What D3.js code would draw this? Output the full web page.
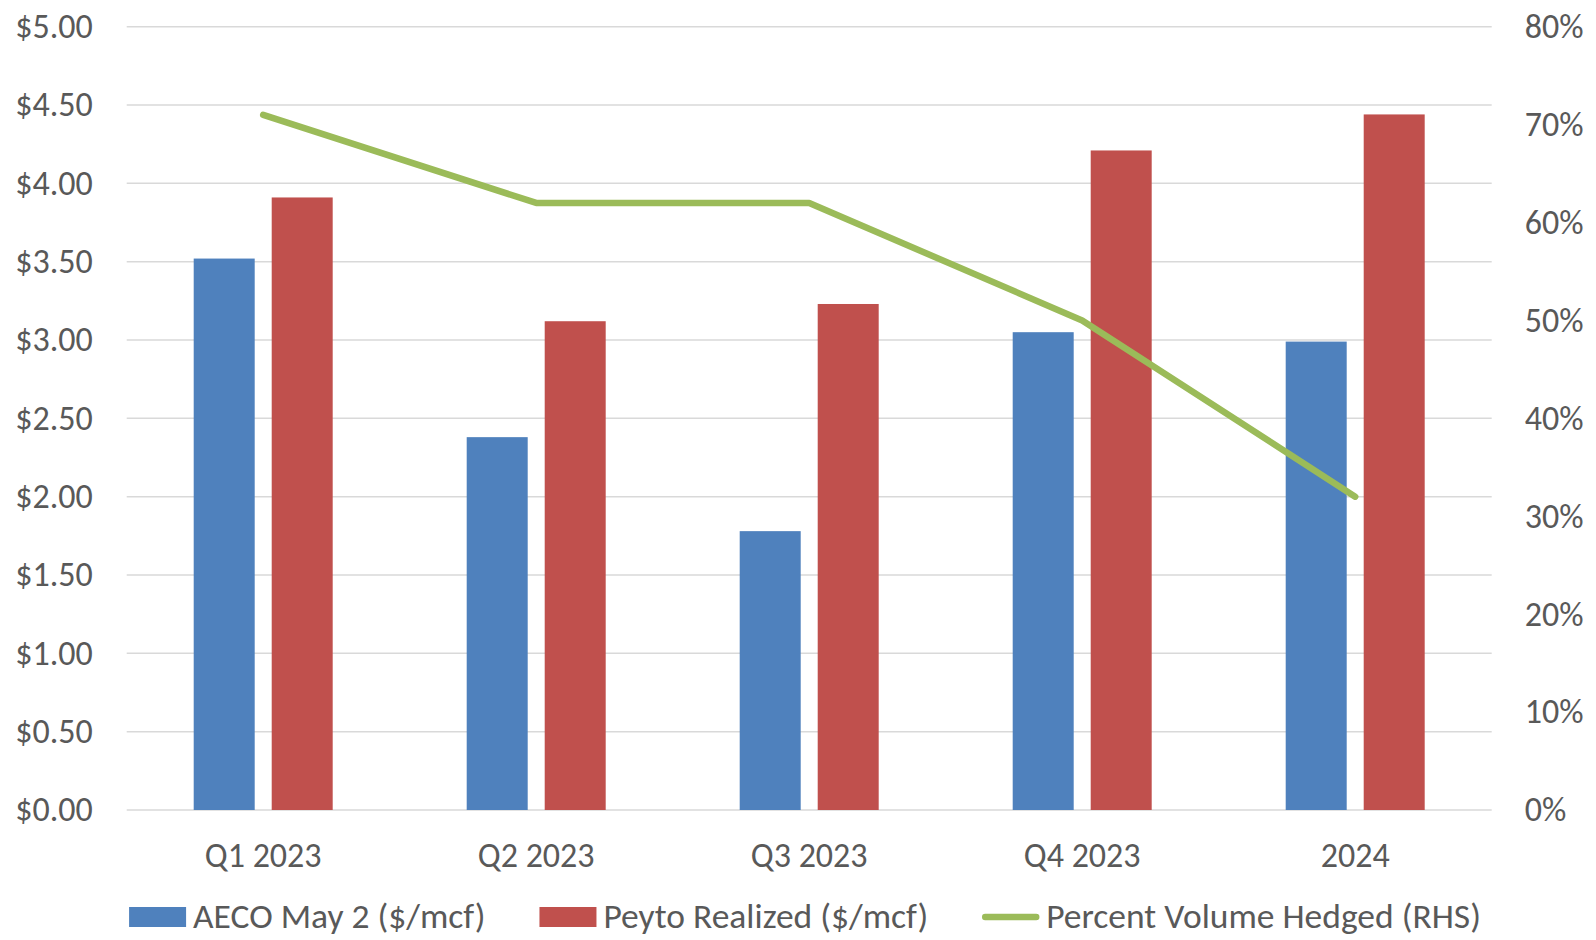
<!DOCTYPE html>
<html>
<head>
<meta charset="utf-8">
<script src="https://cdn.jsdelivr.net/npm/d3@7"></script>
<style>
  html, body { margin: 0; padding: 0; background: #ffffff; }
  svg { display: block; }
  text { font-family: Carlito, Calibri, Lato, "Open Sans", sans-serif; fill: #595959; }
</style>
</head>
<body>
<svg id="chart" width="1596" height="940"></svg>
<script>
// Quarterly gas prices and hedged share
const categories = ["Q1 2023", "Q2 2023", "Q3 2023", "Q4 2023", "2024"];
const aecoPrices = [3.52, 2.38, 1.78, 3.05, 2.99];
const peytoPrices = [3.91, 3.12, 3.23, 4.21, 4.44];
const hedgedShare = [0.71, 0.62, 0.62, 0.50, 0.32];
const priceTicks = [0, 0.5, 1, 1.5, 2, 2.5, 3, 3.5, 4, 4.5, 5];
const shareTicks = [0, 0.1, 0.2, 0.3, 0.4, 0.5, 0.6, 0.7, 0.8];
const seriesNames = ["AECO May 2 ($/mcf)", "Peyto Realized ($/mcf)", "Percent Volume Hedged (RHS)"];
const colors = { aeco: "#4F81BD", peyto: "#C0504D", hedged: "#9BBB59" };

const svg = d3.select("#chart");
const plot = { left: 126.7, right: 1491.7, top: 26.7, bottom: 810 };
const fontSize = 34;
const legendFontSize = 35.5;

const x = d3.scaleBand().domain(categories).range([plot.left, plot.right]).padding(0);
const xInner = d3.scaleBand().domain(["aeco", "peyto"]).range([0, x.bandwidth()])
  .paddingInner(0.218).paddingOuter(0.859);
const yPrice = d3.scaleLinear().domain([0, 5]).range([plot.bottom, plot.top]);
const yShare = d3.scaleLinear().domain([0, 0.8]).range([plot.bottom, plot.top]);

// Horizontal gridlines
svg.append("g").selectAll("line").data(priceTicks).join("line")
  .attr("x1", plot.left).attr("x2", plot.right)
  .attr("y1", d => yPrice(d)).attr("y2", d => yPrice(d))
  .attr("stroke", "#D9D9D9").attr("stroke-width", 1.5);

// Bars
const rows = categories.map((c, i) => ({ cat: c, aeco: aecoPrices[i], peyto: peytoPrices[i] }));
const groups = svg.append("g").selectAll("g").data(rows).join("g")
  .attr("transform", d => `translate(${x(d.cat)},0)`);
groups.selectAll("rect")
  .data(d => ["aeco", "peyto"].map(k => ({ key: k, value: d[k] })))
  .join("rect")
  .attr("x", d => xInner(d.key))
  .attr("width", xInner.bandwidth())
  .attr("y", d => yPrice(d.value))
  .attr("height", d => yPrice(0) - yPrice(d.value))
  .attr("fill", d => colors[d.key]);

// Hedged share line (right axis)
const line = d3.line()
  .x((d, i) => x(categories[i]) + x.bandwidth() / 2)
  .y(d => yShare(d));
svg.append("path").datum(hedgedShare)
  .attr("d", line)
  .attr("fill", "none")
  .attr("stroke", colors.hedged)
  .attr("stroke-width", 6.5)
  .attr("stroke-linecap", "round")
  .attr("stroke-linejoin", "round");

// Axes
const leftAxis = d3.axisLeft(yPrice).tickValues(priceTicks).tickSize(0).tickPadding(34)
  .tickFormat(d => "$" + d3.format(".2f")(d));
const gL = svg.append("g").attr("transform", `translate(${plot.left},0)`).call(leftAxis);

const rightAxis = d3.axisRight(yShare).tickValues(shareTicks).tickSize(0).tickPadding(33)
  .tickFormat(d3.format(".0%"));
const gR = svg.append("g").attr("transform", `translate(${plot.right},0)`).call(rightAxis);

const bottomAxis = d3.axisBottom(x).tickSize(0).tickPadding(33);
const gB = svg.append("g").attr("transform", `translate(0,${plot.bottom})`).call(bottomAxis);

[gL, gR, gB].forEach(g => {
  g.select(".domain").remove();
  g.selectAll("text")
    .style("font-family", "Carlito, Calibri, Lato, 'Open Sans', sans-serif")
    .style("font-size", fontSize + "px")
    .attr("fill", "#595959");
});

// Legend
const legendItems = [
  { name: seriesNames[0], color: colors.aeco, kind: "rect" },
  { name: seriesNames[1], color: colors.peyto, kind: "rect" },
  { name: seriesNames[2], color: colors.hedged, kind: "line" }
];
const legend = svg.append("g");
const legendY = 917;
const swatchW = 57, swatchGap = 7, itemGap = 54;
const measured = legendItems.map(it => {
  const t = legend.append("text").text(it.name)
    .style("font-size", legendFontSize + "px").attr("visibility", "hidden");
  const w = t.node().getComputedTextLength();
  t.remove();
  return w;
});
const totalW = d3.sum(measured) + legendItems.length * (swatchW + swatchGap) + itemGap * (legendItems.length - 1);
let cx = 805 - totalW / 2;
legendItems.forEach((it, i) => {
  if (it.kind === "rect") {
    legend.append("rect").attr("x", cx).attr("y", legendY - 10)
      .attr("width", swatchW).attr("height", 20).attr("fill", it.color);
  } else {
    legend.append("line").attr("x1", cx + 3).attr("x2", cx + swatchW - 3)
      .attr("y1", legendY).attr("y2", legendY)
      .attr("stroke", it.color).attr("stroke-width", 6.5).attr("stroke-linecap", "round");
  }
  legend.append("text").attr("x", cx + swatchW + swatchGap).attr("y", legendY)
    .attr("dy", "0.32em").style("font-size", legendFontSize + "px").text(it.name);
  cx += swatchW + swatchGap + measured[i] + itemGap;
});
</script>
</body>
</html>
